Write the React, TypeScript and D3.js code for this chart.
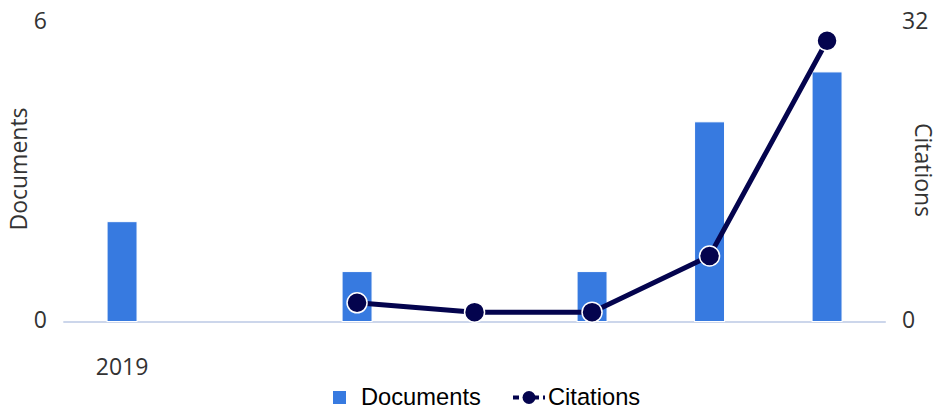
import React from "react";
import * as d3 from "d3";

const years = ["2019", "2020", "2021", "2022", "2023", "2024", "2025"];
const documents: (number | null)[] = [2, null, 1, null, 1, 4, 5];
const citations: (number | null)[] = [null, null, 2, 1, 1, 7, 30];
const xTickLabels = ["2019"];
const leftTicks = [0, 6];
const rightTicks = [0, 32];

const W = 940;
const H = 415;
const plotLeft = 63.3;
const plotRight = 885.8;
const plotTop = 22;
const plotBottom = 321.5;

const BAR = "#377ae0";
const LINE = "#04044e";
const TEXT = "#333333";
const AXIS = "#ccd6eb";
const FONT = "'Open Sans', sans-serif";
const LEGEND_FONT = "'Liberation Sans', Arial, sans-serif";

export default function App() {
  const x = d3
    .scaleBand<string>()
    .domain(years)
    .range([plotLeft, plotRight])
    .paddingInner(0.745)
    .paddingOuter(0.3725);
  const yL = d3.scaleLinear().domain([0, 6]).range([plotBottom, plotTop]);
  const yR = d3.scaleLinear().domain([0, 32]).range([plotBottom, plotTop]);
  const cx = (y: string) => (x(y) as number) + x.bandwidth() / 2;

  const pts = years
    .map((yr, i) => ({ yr, v: citations[i] }))
    .filter((d) => d.v !== null) as { yr: string; v: number }[];
  const line = d3
    .line<{ yr: string; v: number }>()
    .x((d) => cx(d.yr))
    .y((d) => yR(d.v));

  return (
    <svg
      width={W}
      height={H}
      style={{ position: "absolute", left: 0, top: 0, background: "#fff" }}
    >
      <line
        x1={plotLeft}
        x2={plotRight}
        y1={plotBottom + 0.5}
        y2={plotBottom + 0.5}
        stroke={AXIS}
        strokeWidth={2}
      />
      {years.map((yr, i) =>
        documents[i] === null ? null : (
          <rect
            key={yr}
            x={x(yr)}
            y={yL(documents[i] as number)}
            width={x.bandwidth()}
            height={plotBottom - yL(documents[i] as number)}
            fill={BAR}
            stroke="#fff"
            strokeWidth={1}
          />
        )
      )}
      <path d={line(pts) || ""} fill="none" stroke={LINE} strokeWidth={5} strokeLinejoin="round" />
      {pts.map((d) => (
        <circle
          key={d.yr}
          cx={cx(d.yr)}
          cy={yR(d.v)}
          r={10}
          fill={LINE}
          stroke="#fff"
          strokeWidth={1.5}
        />
      ))}
      {leftTicks.map((t) => (
        <text
          key={"l" + t}
          x={47}
          y={yL(t) + 6.5}
          textAnchor="end"
          fontFamily={FONT}
          fontSize={23}
          fill={TEXT}
        >
          {t}
        </text>
      ))}
      {rightTicks.map((t) => (
        <text
          key={"r" + t}
          x={902}
          y={yR(t) + 6.5}
          textAnchor="start"
          fontFamily={FONT}
          fontSize={23}
          fill={TEXT}
        >
          {t}
        </text>
      ))}
      {xTickLabels.map((l) => (
        <text
          key={l}
          x={cx(l)}
          y={375}
          textAnchor="middle"
          fontFamily={FONT}
          fontSize={23}
          fill={TEXT}
        >
          {l}
        </text>
      ))}
      <text
        transform={`translate(27,169) rotate(-90)`}
        textAnchor="middle"
        fontFamily={FONT}
        fontSize={23}
        fill={TEXT}
      >
        Documents
      </text>
      <text
        transform={`translate(915,170) rotate(90)`}
        textAnchor="middle"
        fontFamily={FONT}
        fontSize={23}
        fill={TEXT}
      >
        Citations
      </text>
      <rect x={333} y={391} width={13} height={13} fill={BAR} />
      <text x={361} y={405} fontFamily={LEGEND_FONT} fontSize={23.7} fill="#000">
        Documents
      </text>
      <line x1={513} x2={545} y1={397.5} y2={397.5} stroke={LINE} strokeWidth={4} strokeDasharray="6 4" />
      <circle cx={529} cy={397.5} r={6.5} fill={LINE} />
      <text x={548} y={405} fontFamily={LEGEND_FONT} fontSize={23.7} fill="#000">
        Citations
      </text>
    </svg>
  );
}
